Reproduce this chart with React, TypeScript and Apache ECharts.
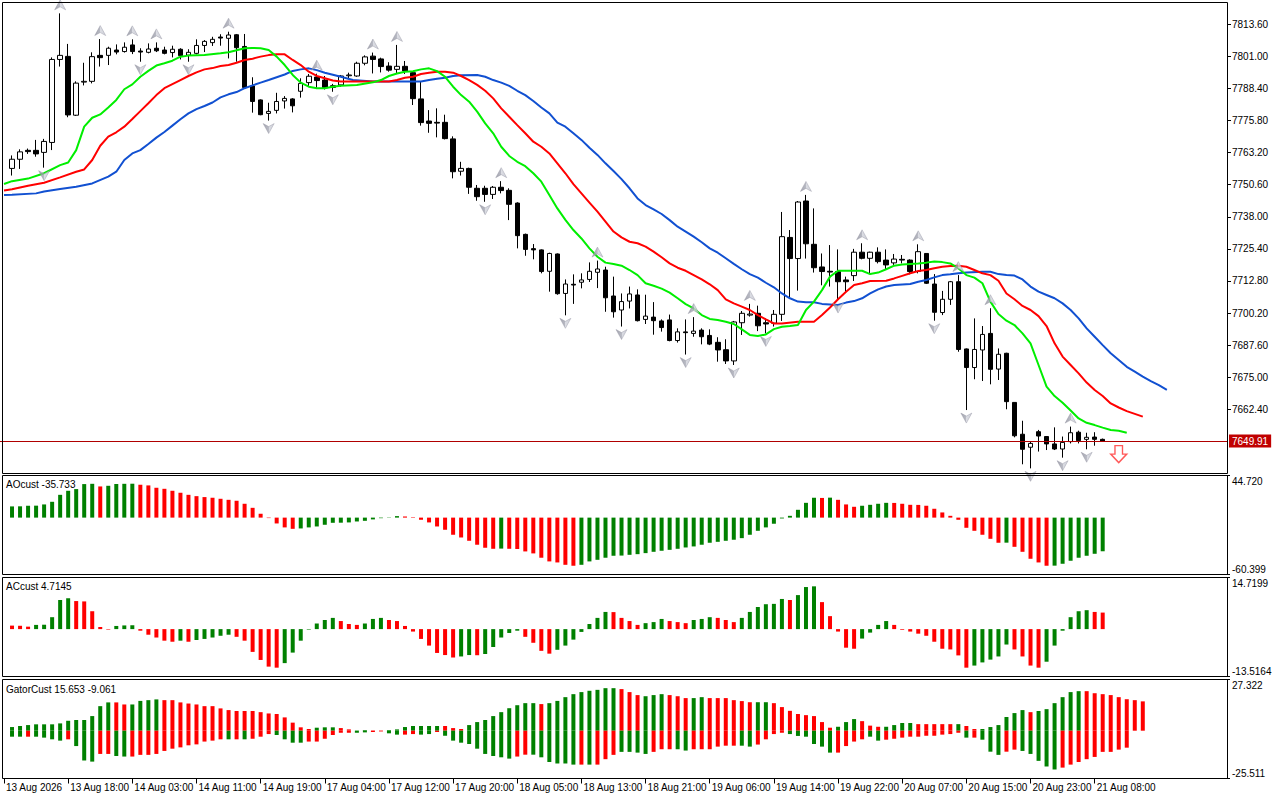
import React, { useEffect, useRef } from "react";
import * as echarts from "echarts";

// ---------- price data (H1 bars, index 0..136) ----------
const opens = [
  7757.0, 7760.6, 7764.1, 7764.1, 7763.3, 7767.2, 7799.8, 7801.0, 7777.9, 7790.9,
  7791.2, 7801.4, 7801.4, 7803.5, 7802.9, 7805.5, 7803.1, 7802.6, 7804.2, 7803.5,
  7802.5, 7803.8, 7801.5, 7802.2, 7805.3, 7806.4, 7808.6, 7808.1, 7809.5, 7804.9,
  7789.4, 7783.9, 7778.6, 7779.8, 7783.5, 7784.3, 7787.3, 7790.7, 7792.9, 7791.7,
  7788.8, 7789.8, 7793.4, 7793.3, 7798.3, 7801.1, 7800.0, 7797.2, 7795.9, 7797.1,
  7794.6, 7784.3, 7775.6, 7775.1, 7775.1, 7768.6, 7755.9, 7757.0, 7749.2, 7749.2,
  7746.8, 7749.6, 7748.4, 7743.4, 7731.1, 7725.5, 7725.0, 7716.6, 7723.4, 7707.9,
  7711.5, 7712.3, 7713.4, 7716.2, 7717.1, 7706.9, 7701.4, 7704.9, 7707.3, 7697.7,
  7698.6, 7697.1, 7697.5, 7689.4, 7692.8, 7692.2, 7693.5, 7691.4, 7688.7, 7685.8,
  7681.4, 7696.4, 7699.4, 7700.1, 7696.4, 7696.2, 7699.7, 7729.9, 7721.6, 7744.2,
  7727.2, 7718.3, 7716.6, 7716.5, 7713.2, 7714.9, 7724.1, 7721.7, 7724.1, 7721.0,
  7719.9, 7721.3, 7721.0, 7716.5, 7723.6, 7711.6, 7700.4, 7705.6, 7712.5, 7686.1,
  7678.8, 7685.7, 7692.2, 7678.2, 7684.4, 7665.1, 7652.6, 7647.5, 7653.6, 7651.7,
  7648.8, 7646.8, 7649.7, 7653.4, 7650.6, 7651.5, 7650.6,
];
const highs = [
  7762.1, 7764.5, 7764.8, 7768.2, 7768.6, 7800.6, 7817.9, 7805.9, 7791.2, 7798.5,
  7802.6, 7807.8, 7804.8, 7805.7, 7806.5, 7807.7, 7804.2, 7806.1, 7806.5, 7804.8,
  7805.2, 7804.2, 7803.8, 7807.7, 7807.4, 7808.7, 7809.7, 7810.7, 7809.8, 7809.8,
  7792.8, 7784.1, 7782.8, 7786.7, 7785.4, 7784.6, 7792.4, 7794.1, 7794.2, 7793.3,
  7790.2, 7793.7, 7794.6, 7798.9, 7801.4, 7802.5, 7800.5, 7798.7, 7805.5, 7799.2,
  7795.0, 7791.1, 7779.9, 7780.6, 7778.1, 7769.6, 7759.6, 7757.3, 7750.5, 7750.2,
  7750.1, 7752.0, 7749.2, 7743.7, 7731.4, 7727.3, 7725.2, 7723.9, 7723.6, 7713.4,
  7715.4, 7715.8, 7720.1, 7720.8, 7718.4, 7714.5, 7707.9, 7710.6, 7709.5, 7707.4,
  7704.5, 7697.7, 7699.6, 7694.2, 7697.7, 7698.6, 7694.2, 7693.8, 7690.7, 7689.9,
  7697.1, 7701.0, 7703.8, 7703.1, 7698.1, 7701.4, 7739.9, 7732.8, 7744.2, 7746.6,
  7741.3, 7723.6, 7726.9, 7725.2, 7714.5, 7725.4, 7727.6, 7724.3, 7726.0, 7725.2,
  7723.4, 7723.0, 7721.3, 7727.2, 7723.6, 7715.5, 7708.9, 7712.8, 7715.1, 7686.3,
  7698.1, 7695.1, 7702.1, 7686.3, 7684.6, 7665.1, 7657.9, 7649.7, 7654.3, 7651.9,
  7655.3, 7651.7, 7655.6, 7654.0, 7653.2, 7653.4, 7650.9,
];
const lows = [
  7754.2, 7756.8, 7762.7, 7761.6, 7757.3, 7764.2, 7797.0, 7777.1, 7777.6, 7789.6,
  7790.4, 7797.0, 7797.6, 7801.8, 7802.5, 7801.9, 7798.9, 7802.2, 7802.7, 7801.8,
  7800.6, 7799.8, 7798.9, 7801.8, 7802.7, 7805.1, 7805.2, 7800.2, 7798.9, 7788.6,
  7778.9, 7777.9, 7775.8, 7778.6, 7780.5, 7779.0, 7784.8, 7789.1, 7788.7, 7788.0,
  7787.1, 7789.1, 7792.2, 7793.0, 7797.5, 7794.3, 7794.7, 7795.0, 7794.3, 7794.1,
  7781.9, 7773.8, 7771.0, 7769.2, 7768.4, 7753.1, 7754.2, 7747.0, 7744.3, 7743.9,
  7745.0, 7747.2, 7736.7, 7725.6, 7722.7, 7721.3, 7715.8, 7708.6, 7707.4, 7699.3,
  7703.8, 7709.9, 7712.4, 7710.0, 7700.7, 7698.4, 7694.9, 7702.0, 7696.9, 7695.9,
  7691.7, 7692.9, 7689.1, 7688.6, 7683.9, 7690.9, 7687.9, 7687.6, 7681.1, 7680.2,
  7679.8, 7691.6, 7698.8, 7693.1, 7692.2, 7694.9, 7697.1, 7706.2, 7709.0, 7721.6,
  7716.1, 7711.1, 7710.6, 7705.3, 7708.6, 7712.8, 7721.3, 7715.8, 7719.7, 7717.1,
  7719.1, 7719.7, 7715.4, 7715.8, 7711.6, 7697.2, 7699.4, 7703.4, 7685.0, 7662.1,
  7674.2, 7673.5, 7672.2, 7673.9, 7662.4, 7651.4, 7640.8, 7639.2, 7645.8, 7646.4,
  7646.4, 7643.4, 7649.0, 7649.0, 7646.7, 7648.1, 7649.7,
];
const closes = [
  7760.6, 7763.5, 7763.6, 7762.7, 7767.6, 7799.8, 7801.4, 7778.0, 7790.5, 7791.2,
  7800.9, 7800.5, 7804.2, 7802.7, 7804.6, 7802.9, 7802.7, 7803.9, 7803.2, 7802.2,
  7803.8, 7801.3, 7802.6, 7805.3, 7806.9, 7807.7, 7808.2, 7809.4, 7804.4, 7788.8,
  7783.3, 7778.1, 7779.4, 7783.3, 7784.5, 7781.6, 7790.4, 7793.2, 7791.5, 7788.7,
  7789.5, 7793.3, 7793.7, 7798.3, 7800.8, 7799.8, 7797.0, 7795.6, 7797.1, 7795.3,
  7784.4, 7775.0, 7774.7, 7774.8, 7768.7, 7755.7, 7757.0, 7749.6, 7745.9, 7746.8,
  7749.6, 7748.3, 7742.9, 7730.6, 7725.2, 7725.0, 7716.5, 7723.6, 7707.8, 7711.6,
  7711.2, 7713.2, 7716.6, 7717.5, 7706.2, 7700.7, 7704.7, 7707.7, 7697.2, 7699.0,
  7697.2, 7694.5, 7689.4, 7692.8, 7692.5, 7693.1, 7690.9, 7688.0, 7685.7, 7681.4,
  7696.7, 7700.1, 7699.8, 7695.2, 7695.9, 7699.7, 7730.2, 7721.6, 7743.8, 7727.4,
  7718.0, 7716.5, 7716.3, 7712.5, 7712.5, 7724.1, 7721.7, 7724.1, 7720.4, 7719.1,
  7721.4, 7721.0, 7716.5, 7724.3, 7711.9, 7700.5, 7705.6, 7712.5, 7685.9, 7678.8,
  7685.9, 7691.8, 7678.1, 7684.0, 7665.4, 7652.0, 7646.7, 7649.0, 7651.9, 7648.8,
  7646.8, 7649.4, 7653.2, 7650.1, 7651.4, 7650.6, 7649.91,
];

// ---------- Alligator lines: [bar index, price] ----------
const jawPts: [number, number][] = [
  [-1, 7746.6], [0, 7746.7], [3, 7747.2], [4, 7747.9], [6, 7748.9], [8, 7749.8], [10, 7751.1],
  [12, 7753.8], [13, 7755.7], [14, 7760.3], [15, 7762.9], [16, 7764.2], [17, 7766.6], [18, 7769.1],
  [19, 7771.3], [20, 7773.8], [21, 7776.3], [22, 7778.6], [23, 7780.3], [24, 7781.5], [25, 7782.9],
  [26, 7784.9], [27, 7786.1], [28, 7787.0], [29, 7788.5], [30, 7789.6], [31, 7790.7], [32, 7791.7],
  [33, 7792.8], [34, 7793.9], [35, 7795.3], [36, 7795.9], [37, 7796.3], [38, 7795.6], [39, 7794.6],
  [41, 7793.0], [42.5, 7791.7], [45, 7791.1], [51, 7791.1], [52, 7791.7], [53, 7792.2], [54, 7792.6],
  [55, 7793.3], [56, 7793.6], [58, 7793.7], [59, 7793.0], [60, 7791.7], [61, 7790.7], [62, 7789.4],
  [63, 7787.5], [64, 7785.8], [65, 7783.5], [66, 7780.9], [67, 7778.6], [68, 7775.0], [69, 7773.4],
  [70, 7770.8], [71, 7768.2], [72, 7765.1], [73, 7762.3], [74, 7759.0], [75, 7756.0], [76, 7752.8],
  [77, 7749.2], [78, 7745.2], [79, 7742.6], [80, 7740.9], [81, 7739.1], [82, 7736.7], [83, 7734.1],
  [84, 7732.2], [85, 7730.2], [86, 7728.0], [87, 7725.6], [88, 7723.9], [89, 7721.7], [90, 7719.5],
  [91, 7717.4], [92, 7715.5], [93, 7714.1], [94, 7712.1], [95, 7710.3], [96, 7707.9], [97, 7706.0],
  [98, 7704.7], [99, 7704.4], [100, 7704.4], [101, 7703.8], [102, 7703.6], [103, 7703.4], [104, 7704.3],
  [105, 7704.9], [106, 7706.0], [107, 7707.9], [108, 7709.5], [109, 7710.6], [110, 7711.2], [112, 7711.6],
  [113, 7712.5], [114, 7713.2], [115, 7714.2], [116, 7715.1], [117, 7715.4], [118, 7715.8], [119, 7716.1],
  [121, 7716.4], [122, 7716.4], [123, 7715.5], [124, 7715.1], [125, 7714.9], [126, 7713.4], [127, 7710.6],
  [128, 7708.6], [129, 7707.3], [130, 7706.0], [131, 7704.0], [132, 7701.4], [133, 7698.1], [134, 7694.2],
  [135, 7690.9], [136, 7687.6], [137, 7684.4], [138, 7681.8], [139, 7679.1], [140, 7677.2], [141, 7675.2],
  [142, 7673.5], [143, 7671.9], [144, 7670.0],
];
const teethPts: [number, number][] = [
  [-1, 7748.3], [0, 7748.8], [2, 7750.2], [4, 7751.4], [6, 7753.5], [8, 7755.7], [9, 7756.6],
  [10, 7760.3], [11, 7765.9], [12, 7769.5], [13, 7771.2], [14, 7773.4], [15, 7776.4], [16, 7779.5],
  [17, 7782.6], [18, 7785.8], [19, 7788.5], [20, 7790.1], [21, 7791.7], [22, 7793.3], [23, 7794.7],
  [24, 7795.9], [25, 7796.4], [26, 7797.2], [27, 7797.6], [28, 7798.5], [29, 7799.6], [30, 7800.1],
  [31, 7800.9], [32, 7801.5], [33, 7801.8], [34, 7801.8], [35, 7799.6], [36, 7797.6], [37, 7795.0],
  [38, 7793.3], [39, 7792.4], [40, 7791.5], [41, 7791.1], [47, 7791.1], [48, 7791.7], [49, 7792.6],
  [50, 7793.0], [51, 7794.1], [52, 7794.6], [53, 7795.0], [54, 7795.0], [55, 7794.6], [56, 7793.3],
  [57, 7791.7], [58, 7789.8], [59, 7787.5], [60, 7784.5], [61, 7780.6], [62, 7777.3], [63, 7774.0],
  [64, 7770.8], [65, 7767.5], [66, 7765.5], [67, 7762.9], [68, 7759.0], [69, 7755.1], [70, 7750.8],
  [71, 7747.2], [72, 7743.6], [73, 7740.0], [74, 7736.1], [75, 7732.2], [76, 7729.9], [77, 7728.2],
  [78, 7727.6], [79, 7726.3], [80, 7724.3], [81, 7722.1], [82, 7719.7], [83, 7718.0], [84, 7716.8],
  [85, 7715.1], [86, 7713.4], [87, 7711.5], [88, 7709.2], [89, 7705.6], [90, 7704.0], [91, 7702.7],
  [92, 7701.4], [93, 7699.4], [94, 7697.7], [95, 7696.1], [96, 7696.1], [98, 7696.8], [100, 7696.8],
  [101, 7699.4], [102, 7702.4], [103, 7705.6], [104, 7708.6], [105, 7711.2], [106, 7711.9], [107, 7712.8],
  [109, 7712.9], [110, 7713.8], [111, 7714.8], [112, 7715.8], [113, 7716.7], [114, 7717.1], [115, 7717.8],
  [116, 7718.4], [117, 7718.7], [118, 7718.8], [119, 7718.4], [120, 7717.1], [121, 7715.8], [122, 7715.1],
  [123, 7712.9], [124, 7707.9], [125, 7705.6], [126, 7703.0], [127, 7701.4], [128, 7699.0], [129, 7695.1],
  [130, 7688.3], [131, 7683.1], [132, 7679.8], [133, 7676.5], [134, 7672.9], [135, 7670.0], [136, 7667.6],
  [137, 7664.7], [138, 7663.1], [139, 7661.7], [140, 7660.6], [141, 7659.5],
];
const lipsPts: [number, number][] = [
  [-1, 7750.9], [0, 7752.0], [2, 7753.0], [4, 7755.1], [6, 7758.3], [7, 7759.3], [8, 7764.2],
  [9, 7773.4], [10, 7776.9], [11, 7778.2], [12, 7780.9], [13, 7783.9], [14, 7788.1], [15, 7790.0],
  [16, 7793.0], [17, 7795.3], [18, 7797.4], [19, 7798.3], [20, 7799.3], [21, 7800.9], [22, 7801.3],
  [24, 7801.5], [26, 7802.2], [27, 7802.6], [28, 7803.4], [29, 7804.2], [30, 7804.3], [31, 7804.2],
  [32, 7803.5], [33, 7800.9], [34, 7797.6], [35, 7793.7], [36, 7790.7], [37, 7789.1], [38, 7788.5],
  [39, 7788.5], [40, 7789.1], [41, 7789.5], [43, 7789.8], [45, 7790.8], [46, 7791.7], [47, 7793.3],
  [48, 7794.3], [49, 7795.0], [50, 7795.2], [51, 7795.9], [52, 7796.3], [53, 7795.2], [54, 7793.0],
  [55, 7789.1], [56, 7785.8], [57, 7783.2], [58, 7779.3], [59, 7774.7], [60, 7770.8], [61, 7765.5],
  [62, 7761.9], [63, 7759.6], [64, 7757.9], [65, 7755.1], [66, 7751.8], [67, 7746.6], [68, 7741.3],
  [69, 7736.8], [70, 7732.8], [71, 7729.5], [72, 7725.6], [73, 7722.3], [74, 7720.0], [75, 7719.5],
  [76, 7718.8], [77, 7717.1], [78, 7715.1], [79, 7711.9], [80, 7710.9], [81, 7709.8], [82, 7708.2],
  [83, 7706.0], [84, 7703.7], [85, 7702.0], [86, 7699.4], [87, 7697.9], [88, 7697.5], [89, 7696.8],
  [90, 7695.9], [91, 7693.8], [92, 7691.6], [93, 7691.2], [94, 7691.8], [95, 7693.9], [96, 7694.8],
  [97, 7695.1], [98, 7695.5], [99, 7701.4], [100, 7704.7], [101, 7709.2], [102, 7714.5], [103, 7716.8],
  [106, 7716.8], [107, 7715.5], [108, 7716.1], [109, 7717.4], [110, 7718.8], [111, 7719.3], [113, 7719.7],
  [114, 7720.0], [115, 7720.4], [116, 7720.2], [117, 7719.7], [118, 7717.8], [119, 7715.1], [120, 7714.1],
  [121, 7711.9], [122, 7704.7], [123, 7699.8], [124, 7697.2], [125, 7695.5], [126, 7692.2], [127, 7688.3],
  [128, 7679.8], [129, 7671.3], [130, 7667.6], [131, 7665.0], [132, 7661.9], [133, 7658.8], [134, 7657.1],
  [135, 7656.2], [136, 7655.2], [137, 7654.3], [138, 7654.0], [139, 7653.2],
];

// ---------- fractals & signal ----------
const fractalUp = [6, 11, 15, 18, 27, 38, 45, 48, 61, 73, 85, 92, 99, 106, 113, 118, 122, 132];
const fractalDown = [4, 16, 22, 32, 40, 59, 69, 76, 84, 90, 94, 103, 115, 119, 127, 131, 134];
const sellSignal = { index: 138, price: 7644.8 };

// ---------- AO ----------
const aoValues = [
  11.9, 12.0, 12.6, 12.7, 14.0, 16.8, 24.2, 28.5, 30.3, 35.6,
  35.9, 33.1, 33.8, 35.7, 35.9, 36.0, 34.9, 34.2, 31.7, 30.6,
  28.5, 26.4, 24.2, 22.8, 21.8, 21.1, 20.0, 18.9, 17.9, 14.7,
  10.4, 4.1, -0.5, -6.2, -10.4, -11.9, -11.5, -10.4, -9.4, -7.6,
  -5.5, -5.4, -5.1, -4.1, -3.4, -1.9, -0.6, -0.3, 1.6, 1.2,
  0.5, -2.3, -5.1, -9.4, -12.9, -18.2, -21.1, -24.6, -28.8, -32.0,
  -33.1, -32.9, -33.1, -33.3, -35.9, -38.0, -42.6, -46.5, -47.6, -50.1,
  -51.1, -50.1, -46.5, -44.8, -42.6, -40.5, -40.3, -39.5, -38.8, -37.7,
  -36.3, -35.2, -34.2, -33.1, -31.7, -30.6, -28.8, -26.7, -25.7, -24.6,
  -23.5, -21.8, -18.2, -14.0, -10.4, -6.5, -0.9, 1.9, 8.3, 15.7,
  21.1, 20.9, 21.2, 18.9, 14.0, 11.5, 12.6, 13.6, 14.7, 15.7,
  15.6, 14.7, 13.6, 13.5, 12.6, 9.4, 5.5, 1.9, -2.3, -10.8,
  -14.0, -18.2, -22.5, -26.7, -26.6, -31.0, -36.3, -43.7, -47.6, -51.1,
  -51.0, -49.0, -45.8, -42.6, -40.5, -38.4, -35.733,
];
const aoColors =
  "GGGGGGGGGG" + "GRGGGGRRRR" + "RRRRRRRRRR" + "RRRRRRGGGG" + "GGGGGGGGGR" +
  "RRRRRRRRRR" + "RGRRRRRRRR" + "RGGGGGGGGG" + "GGGGGGGGGG" + "GGGGGGGGGG" +
  "GRGRRRGGGG" + "RRRRRRRRRR" + "RRRRGRRRRR" + "GGGGGGG";
const aoScale = [44.72, -60.399];

// ---------- AC ----------
const acValues = [
  1.0, 0.95, 0.7, 1.2, 1.25, 3.4, 8.3, 8.8, 8.0, 7.9,
  5.1, 0.6, -0.15, 0.9, 1.05, 1.1, -0.45, -1.6, -2.4, -3.3,
  -3.6, -3.3, -3.6, -3.1, -2.8, -2.4, -1.9, -1.6, -2.2, -3.3,
  -6.5, -8.8, -10.7, -11.0, -9.7, -6.7, -3.3, -0.15, 1.6, 2.6,
  3.2, 2.3, 1.45, 1.2, 1.6, 2.9, 3.2, 2.6, 2.3, 0.9,
  -0.7, -2.8, -4.7, -6.8, -7.4, -8.1, -7.8, -7.4, -7.45, -7.1,
  -5.1, -2.4, -1.1, -0.45, -2.2, -3.9, -6.2, -7.0, -5.9, -4.7,
  -3.0, -0.8, 1.45, 3.2, 4.9, 4.85, 3.2, 2.3, 1.2, 1.7,
  2.0, 2.9, 2.3, 2.0, 1.7, 2.6, 2.9, 3.4, 3.2, 2.6,
  2.0, 3.2, 4.9, 6.3, 7.1, 7.2, 8.6, 8.3, 9.7, 12.0,
  12.2, 7.7, 3.7, -0.7, -5.3, -5.6, -2.7, -1.0, 1.2, 2.3,
  1.2, -0.2, -0.7, -1.3, -1.9, -3.6, -5.6, -5.8, -7.5, -11.0,
  -10.4, -9.5, -8.7, -7.8, -4.4, -5.8, -7.8, -10.4, -11.0, -9.3,
  -4.7, -0.45, 3.4, 5.1, 5.4, 4.9, 4.7145,
];
const acColors =
  "RRRGGGGGRR" + "RRRGGGRRRR" + "RGRGGGGGRR" + "RRRRGGGGGG" + "GRRRGGGRRR" +
  "RRRRRRGGRG" + "GGGGRRRRGG" + "GGGGGRRRRG" + "GGRRRGGGRR" + "RGGGGGGRGG" +
  "GRRRRRGGGG" + "RRRRRRRRRR" + "GGGGGRRRRG" + "GGGGGRR";
const acScale = [14.7199, -13.5164];

// ---------- Gator ----------
const gatorUp = [
  1.95, 2.5, 3.0, 3.4, 3.4, 3.4, 3.9, 5.3, 5.7, 5.7,
  7.8, 13.1, 15.1, 15.1, 14.0, 14.0, 15.9, 16.3, 16.7, 16.3,
  16.3, 15.1, 14.5, 14.0, 13.1, 13.1, 11.9, 11.0, 10.5, 10.5,
  10.5, 9.9, 9.2, 8.9, 7.1, 4.3, 1.8, 0.9, 1.6, 1.8,
  1.8, 1.4, 0.7, 0.1, 0.35, 0.15, 0.1, 0.35, 0.7, 1.95,
  2.5, 2.5, 2.5, 2.5, 2.5, 1.4, 0.9, 3.0, 4.6, 5.7,
  7.8, 9.9, 12.0, 13.6, 14.7, 14.7, 14.2, 14.7, 15.9, 17.9,
  19.5, 20.6, 21.3, 21.8, 22.7, 22.7, 22.2, 20.6, 19.0, 18.4,
  19.0, 19.5, 19.0, 18.4, 17.4, 17.4, 17.9, 17.4, 17.4, 17.4,
  16.3, 15.8, 15.2, 15.2, 15.2, 14.7, 12.6, 10.6, 8.9, 8.3,
  7.8, 4.6, 1.6, 2.1, 4.6, 6.2, 5.1, 2.7, 2.1, 2.1,
  3.0, 4.1, 4.1, 3.5, 3.5, 3.5, 3.5, 3.5, 3.5, 2.5,
  0.9, 0.9, 1.95, 3.0, 7.3, 9.4, 11.0, 9.9, 10.5, 11.5,
  14.7, 17.9, 20.6, 21.1, 21.1, 20.0, 19.5, 19.0, 17.9, 16.8,
  16.3, 15.653,
];
const gatorUpColors =
  "GGGGGGGGGG" + "GGGRRGGGGR" + "RRRRRRRRRR" + "RRRRRRRRGG" + "GRRGGRRGGG" +
  "GGGGRRRGGG" + "GGGGGGRGGG" + "GGGGGGRRRG" + "GGRRRGGRRR" + "RRRGGRRRRR" +
  "RRRGGGRRRG" + "GGGRRRRRGR" + "RGGGGGGRGG" + "GGGGRRRRRR" + "RR";
const gatorDown = [
  -3.2, -3.2, -3.2, -3.2, -3.7, -4.6, -5.3, -4.6, -8.2, -15.9,
  -16.5, -12.4, -12.4, -13.5, -13.8, -13.8, -12.9, -12.9, -12.4, -10.8,
  -9.6, -8.9, -7.8, -7.3, -5.8, -5.3, -4.6, -4.6, -4.6, -4.6,
  -4.3, -3.2, -1.8, -2.3, -4.6, -6.4, -6.4, -5.8, -5.8, -4.3,
  -2.3, -1.1, -1.1, -1.1, -0.9, -0.7, -0.4, -1.4, -2.1, -2.1,
  -1.8, -2.1, -1.8, -0.7, -2.7, -5.3, -6.4, -7.1, -9.6, -12.4,
  -13.5, -14.2, -14.9, -13.8, -12.8, -12.8, -14.2, -16.7, -17.5, -17.5,
  -18.1, -18.1, -18.1, -18.1, -15.2, -12.9, -11.3, -11.3, -11.7, -12.4,
  -11.3, -9.9, -9.9, -9.9, -10.6, -9.9, -9.9, -9.9, -8.5, -8.0,
  -8.0, -8.0, -8.5, -7.4, -4.6, -1.8, -1.1, -1.8, -2.8, -3.2,
  -7.1, -8.5, -11.7, -11.7, -8.2, -5.8, -4.6, -3.2, -5.3, -4.8,
  -4.3, -3.7, -3.2, -3.2, -2.7, -2.7, -2.1, -1.8, -1.1, -3.7,
  -3.7, -4.8, -11.2, -12.9, -11.2, -10.1, -10.8, -12.4, -16.1, -19.1,
  -20.7, -19.7, -18.1, -16.7, -15.2, -14.0, -11.3, -11.3, -10.1, -9.061,
];
const gatorDownColors =
  "GGRGGGGRGG" + "GRRGGRRRRR" + "RRRRRRRGRG" + "RRRGGGGRRR" + "RRRGGRRGGR" +
  "RGGRGGGGGG" + "GGGRRGGGGG" + "GRGRRRGGGG" + "RRRGGRRRRR" + "RGGRRRRGGG" +
  "GGGRRRRGGR" + "RRRRRRRRRG" + "RGGGRRGGGG" + "GRRRRRRRRR";
const gatorScale = [27.322, -25.511];

// ---------- axes ----------
const priceTicks = [7813.6, 7801.0, 7788.4, 7775.8, 7763.2, 7750.6, 7738.0, 7725.4, 7712.8, 7700.2, 7687.6, 7675.0, 7662.4];
const priceRange = [7637.38, 7822.36];
const timeTickIdx = [-1, 7, 15, 23, 31, 39, 47, 55, 63, 71, 79, 87, 95, 103, 111, 119, 127, 135];
const timeLabels = [
  "13 Aug 2026", "13 Aug 18:00", "14 Aug 03:00", "14 Aug 11:00", "14 Aug 19:00", "17 Aug 04:00",
  "17 Aug 12:00", "17 Aug 20:00", "18 Aug 05:00", "18 Aug 13:00", "18 Aug 21:00", "19 Aug 06:00",
  "19 Aug 14:00", "19 Aug 22:00", "20 Aug 07:00", "20 Aug 15:00", "20 Aug 23:00", "21 Aug 08:00",
];

// ---------- styling ----------
const FONT = "Liberation Sans";
const HG = "#008000";
const HR = "#ff0000";
const X_MIN = -1.5;
const X_MAX = 151.5;
const GRID_LEFT = -2;
const GRID_RIGHT = 53;
const FRAME_LEFT = 2.5;
const FRAME_RIGHT = 1227.5;
const panels = [
  { top: 2.5, bottom: 473.5 },
  { top: 475.5, bottom: 574.5 },
  { top: 577.5, bottom: 676.5 },
  { top: 679.5, bottom: 778.5 },
];

const upArrow = "path://M5.5 0 L11 10 L5.5 7 L0 10 Z";
const downArrow = "path://M0 0 L5.5 3 L11 0 L5.5 10 Z";
const sellPath = "path://M4.5 0 L12.5 0 L12.5 9 L17 9 L8.5 18 L0 9 L4.5 9 Z";
const fractalFill = {
  type: "linear",
  x: 0,
  y: 0,
  x2: 1,
  y2: 0,
  colorStops: [
    { offset: 0, color: "#8e909c" },
    { offset: 0.5, color: "#a8aab6" },
    { offset: 0.51, color: "#d2d4dc" },
    { offset: 1, color: "#c4c6d0" },
  ],
};

function buildOption() {
  const col = (s: string, i: number) => (s[i] === "G" ? HG : HR);
  const candleData = opens.map((o, i) => [i, o, closes[i], lows[i], highs[i]]);
  const last = closes[closes.length - 1];

  const xAxes = [0, 1, 2, 3].map((g) => ({
    type: "value",
    gridIndex: g,
    min: X_MIN,
    max: X_MAX,
    show: g === 3,
    position: "bottom",
    axisLine: { show: false, onZero: false },
    splitLine: { show: false },
    axisTick: {
      show: g === 3,
      customValues: timeTickIdx,
      length: 5,
      lineStyle: { color: "#000", width: 1 },
    },
    axisLabel: {
      show: g === 3,
      customValues: timeTickIdx,
      formatter: (v: number) => {
        const k = timeTickIdx.indexOf(Math.round(v));
        return k >= 0 ? timeLabels[k] : "";
      },
      align: "left",
      margin: 4,
      padding: [0, 0, 0, 2],
      color: "#000",
      fontSize: 10,
      fontFamily: FONT,
    },
  }));

  const indicatorY = (g: number, scale: number[]) => ({
    type: "value",
    gridIndex: g,
    position: "right",
    min: scale[1],
    max: scale[0],
    axisLine: { show: false, onZero: false },
    splitLine: { show: false },
    axisTick: { show: true, customValues: [scale[1], scale[0]], length: 3, lineStyle: { color: "#000" } },
    axisLabel: { show: false },
  });

  const yAxes = [
    {
      type: "value",
      gridIndex: 0,
      position: "right",
      min: priceRange[0],
      max: priceRange[1],
      axisLine: { show: false, onZero: false },
      splitLine: { show: false },
      axisTick: { show: true, customValues: priceTicks, length: 4, lineStyle: { color: "#000" } },
      axisLabel: {
        show: true,
        customValues: priceTicks,
        formatter: (v: number) => v.toFixed(2),
        margin: 5,
        color: "#000",
        fontSize: 10,
        fontFamily: FONT,
      },
    },
    indicatorY(1, aoScale),
    indicatorY(2, acScale),
    indicatorY(3, gatorScale),
  ];

  const grids = panels.map((p, g) =>
    g === 0
      ? { left: GRID_LEFT, right: GRID_RIGHT, top: 2, height: 471 }
      : { left: GRID_LEFT, right: GRID_RIGHT, top: p.top, height: p.bottom - p.top }
  );

  const lineSeries = (data: [number, number][], color: string) => ({
    type: "line",
    xAxisIndex: 0,
    yAxisIndex: 0,
    data,
    showSymbol: false,
    symbol: "none",
    smooth: false,
    lineStyle: { color, width: 2 },
    z: 4,
    silent: true,
  });

  const series: any[] = [
    {
      type: "candlestick",
      xAxisIndex: 0,
      yAxisIndex: 0,
      dimensions: ["idx", "open", "close", "lowest", "highest"],
      encode: { x: 0, y: [1, 2, 3, 4] },
      data: candleData,
      barWidth: 5,
      itemStyle: {
        color: "#ffffff",
        color0: "#000000",
        borderColor: "#000000",
        borderColor0: "#000000",
        borderWidth: 1,
      },
      z: 2,
      markLine: {
        silent: true,
        symbol: "none",
        animation: false,
        data: [{ yAxis: last }],
        lineStyle: { color: "#b00000", width: 1, type: "solid" },
        label: {
          show: true,
          position: "end",
          formatter: last.toFixed(2),
          backgroundColor: "#c00000",
          color: "#ffffff",
          padding: [2, 3, 1, 3],
          fontSize: 10,
          fontFamily: FONT,
          distance: 2,
        },
      },
    },
    lineSeries(jawPts, "#1150d1"),
    lineSeries(teethPts, "#ff0000"),
    lineSeries(lipsPts, "#00ee00"),
    {
      type: "scatter",
      xAxisIndex: 0,
      yAxisIndex: 0,
      data: fractalUp.map((i) => [i, highs[i]]),
      symbol: upArrow,
      symbolSize: [11, 10],
      symbolOffset: [0, -8.5],
      itemStyle: { color: fractalFill, borderColor: "#9092a0", borderWidth: 0.5 },
      z: 5,
      silent: true,
    },
    {
      type: "scatter",
      xAxisIndex: 0,
      yAxisIndex: 0,
      data: fractalDown.map((i) => [i, lows[i]]),
      symbol: downArrow,
      symbolSize: [11, 10],
      symbolOffset: [0, 8],
      itemStyle: { color: fractalFill, borderColor: "#9092a0", borderWidth: 0.5 },
      z: 5,
      silent: true,
    },
    {
      type: "scatter",
      xAxisIndex: 0,
      yAxisIndex: 0,
      data: [[sellSignal.index, sellSignal.price]],
      symbol: sellPath,
      symbolSize: [16, 17],
      itemStyle: { color: "#ffffff", borderColor: "#ff3030", borderWidth: 1.4 },
      z: 6,
      silent: true,
    },
    {
      type: "bar",
      xAxisIndex: 1,
      yAxisIndex: 1,
      barWidth: 4,
      data: aoValues.map((v, i) => ({ value: [i, v], itemStyle: { color: col(aoColors, i) } })),
      silent: true,
    },
    {
      type: "bar",
      xAxisIndex: 2,
      yAxisIndex: 2,
      barWidth: 4,
      data: acValues.map((v, i) => ({ value: [i, v], itemStyle: { color: col(acColors, i) } })),
      silent: true,
    },
    {
      type: "bar",
      xAxisIndex: 3,
      yAxisIndex: 3,
      barWidth: 4,
      stack: "gator",
      data: gatorUp.map((v, i) => ({ value: [i, v], itemStyle: { color: col(gatorUpColors, i) } })),
      silent: true,
    },
    {
      type: "bar",
      xAxisIndex: 3,
      yAxisIndex: 3,
      barWidth: 4,
      stack: "gator",
      data: gatorDown.map((v, i) => ({ value: [i, v], itemStyle: { color: col(gatorDownColors, i) } })),
      silent: true,
    },
  ];

  const textStyle = (text: string, x: number, y: number) => ({
    type: "text",
    x,
    y,
    silent: true,
    z: 110,
    style: { text, fill: "#000", font: `10px "${FONT}"`, verticalAlign: "middle", align: "left" },
  });

  const graphics: any[] = panels.map((p) => ({
    type: "rect",
    silent: true,
    z: 100,
    shape: { x: FRAME_LEFT, y: p.top, width: FRAME_RIGHT - FRAME_LEFT, height: p.bottom - p.top },
    style: { fill: "transparent", stroke: "#000", lineWidth: 1 },
  }));

  graphics.push(textStyle(`AOcust ${aoValues[aoValues.length - 1]}`, 6, panels[1].top + 9));
  graphics.push(textStyle(`ACcust ${acValues[acValues.length - 1]}`, 6, panels[2].top + 9));
  graphics.push(
    textStyle(
      `GatorCust ${gatorUp[gatorUp.length - 1]} ${gatorDown[gatorDown.length - 1]}`,
      6,
      panels[3].top + 9.5
    )
  );
  const scales: [number[], number][] = [
    [aoScale, 3],
    [acScale, 4],
    [gatorScale, 3],
  ];
  scales.forEach(([s, d], k) => {
    const p = panels[k + 1];
    graphics.push(textStyle(s[0].toFixed(d), 1232, p.top + 6));
    graphics.push(textStyle(s[1].toFixed(d), 1232, p.bottom - 5.5));
  });

  return {
    animation: false,
    backgroundColor: "#ffffff",
    textStyle: { fontFamily: FONT, fontSize: 10 },
    grid: grids,
    xAxis: xAxes,
    yAxis: yAxes,
    series,
    graphic: graphics,
  };
}

export default function App() {
  const ref = useRef<HTMLDivElement>(null);
  useEffect(() => {
    if (!ref.current) return;
    const chart = echarts.init(ref.current, null, { renderer: "svg" });
    chart.setOption(buildOption() as any);
    return () => chart.dispose();
  }, []);
  return (
    <div
      ref={ref}
      style={{ position: "fixed", left: 0, top: 0, width: 1280, height: 800, background: "#ffffff" }}
    />
  );
}
